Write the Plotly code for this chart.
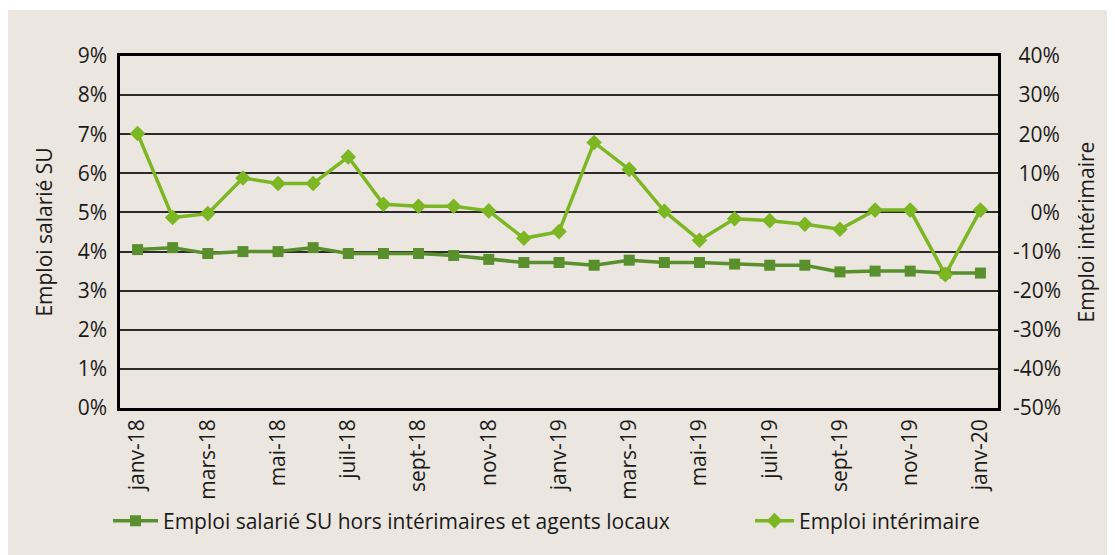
import plotly.graph_objects as go

months = ["janv-18", "févr-18", "mars-18", "avr-18", "mai-18", "juin-18", "juil-18", "août-18",
          "sept-18", "oct-18", "nov-18", "déc-18", "janv-19", "févr-19", "mars-19", "avr-19",
          "mai-19", "juin-19", "juil-19", "août-19", "sept-19", "oct-19", "nov-19", "déc-19", "janv-20"]

emploi_su = [4.05, 4.1, 3.95, 4.0, 4.0, 4.1, 3.95, 3.95, 3.95, 3.9, 3.8, 3.72, 3.72,
             3.65, 3.78, 3.72, 3.72, 3.68, 3.65, 3.65, 3.48, 3.5, 3.5, 3.45, 3.45]

emploi_interim = [20.2, -1.3, -0.3, 8.8, 7.4, 7.4, 14.2, 2.1, 1.6, 1.6, 0.4, -6.6, -4.9,
                  17.9, 11.0, 0.3, -7.1, -1.6, -2.1, -3.0, -4.3, 0.6, 0.6, -15.9, 0.6]

left_ticks = [0, 1, 2, 3, 4, 5, 6, 7, 8, 9]
right_ticks = [-50, -40, -30, -20, -10, 0, 10, 20, 30, 40]

name_su = "Emploi salarié SU hors intérimaires et agents locaux"
name_int = "Emploi intérimaire"

BG = "#ebe7e0"
DARK = "#5a8f2e"
LIGHT = "#7cb623"
FONT = "Open Sans"
TXT = "#1a1a1a"
FS = 21


def right_label(v):
    s = f"{v}%"
    pad = ""
    if v >= 0:
        pad += "\u2008"
        if abs(v) < 10:
            pad += "\u2007"
    return pad + s


fig = go.Figure()
fig.add_trace(go.Scatter(
    x=months, y=emploi_su, name=name_su, mode="lines+markers",
    line=dict(color=DARK, width=3.5),
    marker=dict(symbol="square", size=11, color=DARK),
    legend="legend", yaxis="y",
))
fig.add_trace(go.Scatter(
    x=months, y=emploi_interim, name=name_int, mode="lines+markers",
    line=dict(color=LIGHT, width=3.5),
    marker=dict(symbol="diamond", size=12, color=LIGHT),
    legend="legend2", yaxis="y2",
))

# figure is placed at (8, 8) in the page; reference coords are page coords
OX, OY = 8, 8
W, H = 1115, 555
L, R, T = 120 - OX, W - (998 - OX), 56 - OY
B = H - (408 - OY)
pw, ph = W - L - R, H - T - B


def px_x(p):
    return (p - OX - L) / pw


def px_y(p):
    return (H - B - (p - OY)) / ph


fig.update_layout(
    width=W, height=H,
    margin=dict(l=L, r=R, t=T, b=B),
    paper_bgcolor=BG, plot_bgcolor=BG,
    font=dict(family=FONT, size=FS, color=TXT),
    showlegend=True,
    xaxis=dict(
        type="category", tickmode="array", range=[-0.5, len(months) - 0.5],
        tickvals=months[::2], ticktext=months[::2],
        tickangle=-90, showgrid=False, showline=True, linecolor="black", linewidth=2.5,
        mirror=True, ticks="", ticklabelstandoff=0, zeroline=False,
        tickfont=dict(family=FONT, size=FS, color=TXT),
    ),
    yaxis=dict(
        range=[0, 9], tickvals=left_ticks, ticktext=[f"{v}%" for v in left_ticks],
        showgrid=True, gridcolor="#2b2b2b", gridwidth=1.5,
        showline=True, linecolor="black", linewidth=2.5, mirror=True,
        ticks="", ticklabelstandoff=6, zeroline=False,
        title=dict(text="Emploi salarié SU", standoff=20, font=dict(family=FONT, size=FS, color=TXT)),
        tickfont=dict(family=FONT, size=FS, color=TXT),
    ),
    yaxis2=dict(
        range=[-50, 40], overlaying="y", side="right",
        tickvals=right_ticks, ticktext=[right_label(v) for v in right_ticks],
        showgrid=False, showline=True, linecolor="black", linewidth=2.5,
        ticks="", ticklabelstandoff=8, zeroline=False,
        title=dict(text="Emploi intérimaire", standoff=20, font=dict(family=FONT, size=FS, color=TXT)),
        tickfont=dict(family=FONT, size=FS, color=TXT),
    ),
    legend=dict(
        orientation="h", x=px_x(108), xanchor="left", y=px_y(521), yanchor="middle",
        bgcolor="rgba(0,0,0,0)", font=dict(family=FONT, size=FS, color=TXT),
        itemwidth=45,
    ),
    legend2=dict(
        orientation="h", x=px_x(750), xanchor="left", y=px_y(521), yanchor="middle",
        bgcolor="rgba(0,0,0,0)", font=dict(family=FONT, size=FS, color=TXT),
        itemwidth=39,
    ),
    shapes=[
        dict(type="rect", xref="paper", yref="paper", x0=px_x(0), x1=px_x(W + 20),
             y0=px_y(10), y1=px_y(0), fillcolor="white", line=dict(width=0), layer="below"),
    ],
)

fig.write_html("out.html")
